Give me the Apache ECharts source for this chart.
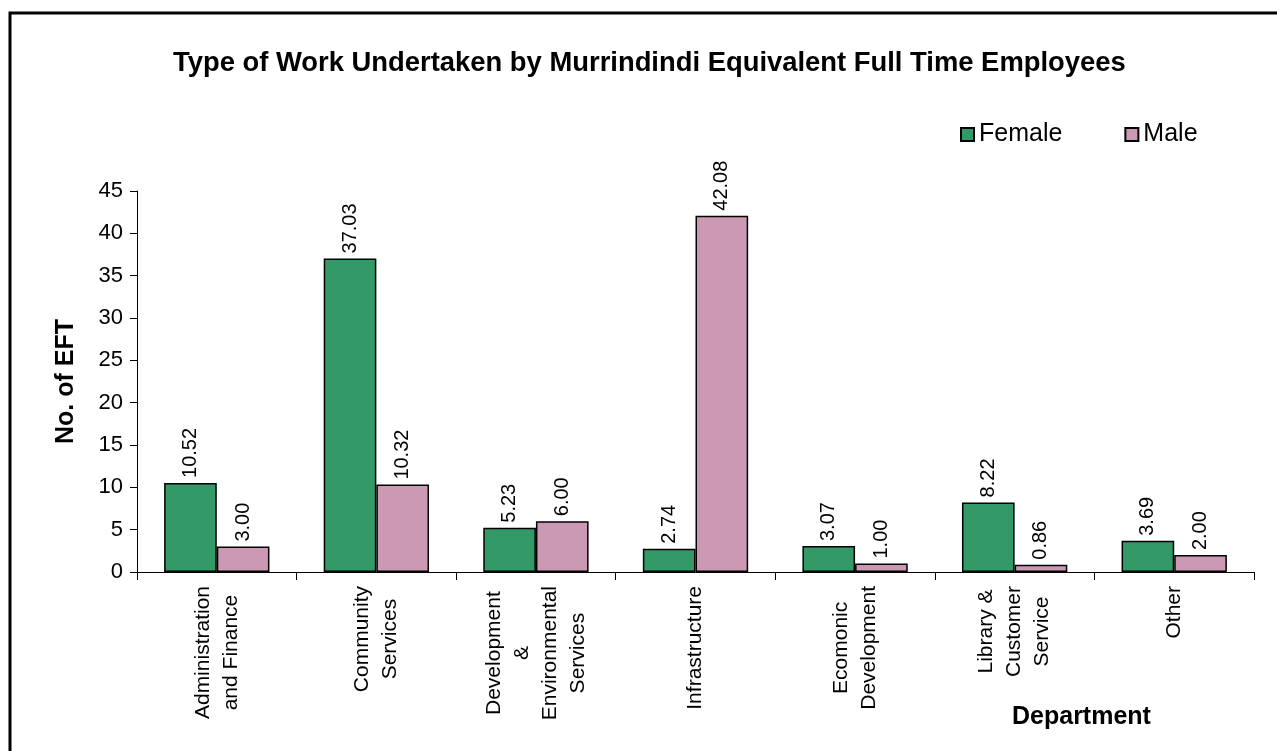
<!DOCTYPE html>
<html>
<head>
<meta charset="utf-8">
<title>Murrindindi EFT</title>
<script src="https://cdn.jsdelivr.net/npm/echarts@6/dist/echarts.min.js"></script>
<style>
  html, body { margin: 0; padding: 0; background: #fff; }
  #chart { width: 1277px; height: 751px; }
</style>
</head>
<body>
<div id="chart"></div>
<script>
// department categories (line breaks as in the original axis labels)
const departments = [
  'Administration\nand Finance',
  'Community\nServices',
  'Development\n&\nEnvironmental\nServices',
  'Infrastructure',
  'Ecomonic\nDevelopment',
  'Library &\nCustomer\nService',
  'Other'
]
const femaleEFT = [10.52, 37.03, 5.23, 2.74, 3.07, 8.22, 3.69]
const maleEFT = [3.00, 10.32, 6.00, 42.08, 1.00, 0.86, 2.00]
const yTicks = { min: 0, max: 45, interval: 5 }

const FONT = '"Liberation Sans", Arial, sans-serif'

const chart = echarts.init(document.getElementById('chart'))

// label on top of each bar, rotated
const barLabel = {
  show: true,
  position: 'top',
  rotate: 90,
  align: 'left',
  verticalAlign: 'middle',
  distance: 5,
  color: '#000',
  fontFamily: FONT,
  fontSize: 20,
  formatter: p => p.value.toFixed(2)
}

chart.setOption({
  animation: false,
  backgroundColor: '#fff',
  textStyle: { fontFamily: FONT },
  title: [
    {
      text: 'Type of Work Undertaken by Murrindindi Equivalent Full Time Employees',
      left: 173,
      top: 50,
      padding: 0,
      textStyle: { fontFamily: FONT, fontSize: 27.4, fontWeight: 'bold', color: '#000' }
    },
    {
      text: 'Department',
      left: 1012,
      top: 705,
      padding: 0,
      textStyle: { fontFamily: FONT, fontSize: 25, fontWeight: 'bold', color: '#000' }
    }
  ],
  graphic: [{
    type: 'rect',
    shape: { x: 10, y: 13, width: 1300, height: 800 },
    style: { fill: 'none', stroke: '#000', lineWidth: 3 },
    silent: true
  }],
  legend: {
    left: 960,
    top: 122,
    padding: 0,
    itemWidth: 13,
    itemHeight: 13,
    itemGap: 62,
    icon: 'rect',
    textStyle: { fontFamily: FONT, fontSize: 25, color: '#000' },
    data: ['Female', 'Male']
  },
  grid: { left: 137, right: 23, top: 191, bottom: 179 },
  xAxis: {
    type: 'category',
    data: departments,
    axisLine: { lineStyle: { color: '#000', width: 1 } },
    axisTick: { show: true, length: 8, lineStyle: { color: '#000' } },
    axisLabel: {
      interval: 0,
      rotate: 90,
      margin: 14,
      color: '#000',
      formatter: v => v.split('\n').map(s => '{c|' + s + '}').join('\n'),
      rich: {
        c: { align: 'center', fontFamily: FONT, fontSize: 21, lineHeight: 28, color: '#000' }
      }
    }
  },
  yAxis: {
    type: 'value',
    min: yTicks.min,
    max: yTicks.max,
    interval: yTicks.interval,
    name: 'No. of EFT',
    nameLocation: 'middle',
    nameRotate: 90,
    nameGap: 58,
    nameTextStyle: { fontFamily: FONT, fontSize: 25, fontWeight: 'bold', color: '#000' },
    axisLine: { show: true, lineStyle: { color: '#000', width: 1 } },
    axisTick: { show: true, length: 7, lineStyle: { color: '#000' } },
    axisLabel: { margin: 14, color: '#000', fontFamily: FONT, fontSize: 22 },
    splitLine: { show: false }
  },
  series: [
    {
      name: 'Female',
      type: 'bar',
      data: femaleEFT,
      barGap: '0%',
      barCategoryGap: '34%',
      itemStyle: { color: '#339966', borderColor: '#000', borderWidth: 1.5 },
      label: barLabel
    },
    {
      name: 'Male',
      type: 'bar',
      data: maleEFT,
      barGap: '0%',
      barCategoryGap: '34%',
      itemStyle: { color: '#cc99b4', borderColor: '#000', borderWidth: 1.5 },
      label: barLabel
    }
  ]
})
</script>
</body>
</html>
